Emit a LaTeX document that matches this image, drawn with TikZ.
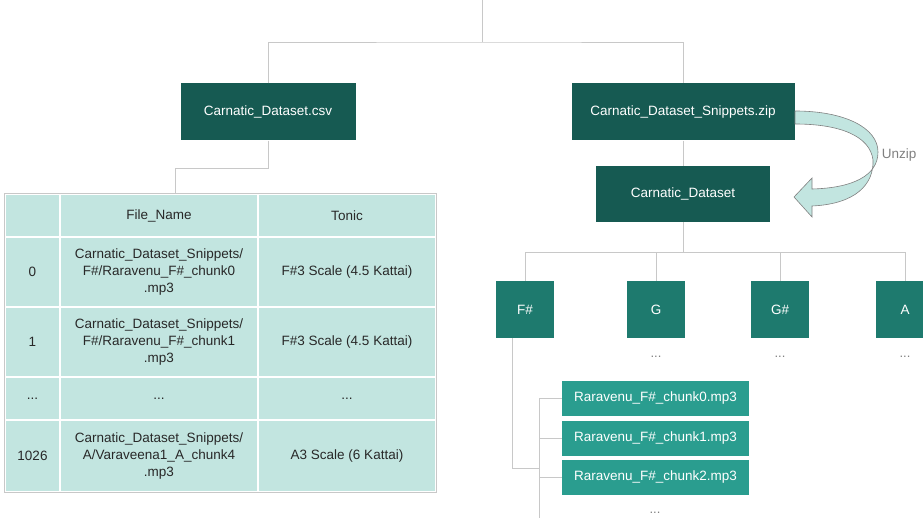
\documentclass[tikz,border=0pt]{standalone}
\usepackage{fontspec}
\setmainfont{Liberation Sans}
\usepackage{tikz}

\definecolor{darkteal}{RGB}{22,90,82}
\definecolor{midteal}{RGB}{30,122,110}
\definecolor{fileteal}{RGB}{42,157,143}
\definecolor{cellteal}{RGB}{194,229,224}
\definecolor{linegray}{RGB}{200,200,200}
\definecolor{celltext}{RGB}{40,40,40}

\tikzset{
  darkbox/.style={fill=darkteal, text=white},
  keybox/.style={fill=midteal, text=white, minimum width=58pt, minimum height=57pt},
  filebox/.style={fill=fileteal, text=white, minimum width=187pt, minimum height=35pt},
  cell/.style={fill=cellteal, draw=white, line width=1.5pt, align=center, text=celltext},
  conn/.style={draw=linegray, line width=0.9pt},
  dots/.style={text=gray, font=\fontsize{13}{15}\selectfont},
}

\begin{document}
\begin{tikzpicture}[x=1pt,y=-1pt,inner sep=0pt,font=\fontsize{13.5}{16.7}\selectfont]
\useasboundingbox (0,0) rectangle (923,518);

% top level
\coordinate (root) at (482,0);
\coordinate (split) at (482,42);
\node (csv) at (268,112) [darkbox, minimum width=175pt, minimum height=57pt] {Carnatic\_Dataset.csv};
\node (zip) at (683,112) [darkbox, minimum width=223pt, minimum height=57pt] {Carnatic\_Dataset\_Snippets.zip};
\draw[conn] (root) -- (split);
\draw[conn] (csv.north) |- (split) -| (zip.north);

% csv table
\node (h0) at (32.5,215.5) [cell, minimum width=55pt, minimum height=43pt] {};
\node (h1) at (159,215.5) [cell, minimum width=198pt, minimum height=43pt] {File\_Name};
\node (h2) at (347,215.5) [cell, minimum width=178pt, minimum height=43pt] {Tonic};
\node (a0) at (32.5,272) [cell, minimum width=55pt, minimum height=70pt] {0};
\node (a1) at (159,272) [cell, minimum width=198pt, minimum height=70pt] {Carnatic\_Dataset\_Snippets/\\F\#/Raravenu\_F\#\_chunk0\\.mp3};
\node (a2) at (347,272) [cell, minimum width=178pt, minimum height=70pt] {F\#3 Scale (4.5 Kattai)};
\node (b0) at (32.5,342) [cell, minimum width=55pt, minimum height=70pt] {1};
\node (b1) at (159,342) [cell, minimum width=198pt, minimum height=70pt] {Carnatic\_Dataset\_Snippets/\\F\#/Raravenu\_F\#\_chunk1\\.mp3};
\node (b2) at (347,342) [cell, minimum width=178pt, minimum height=70pt] {F\#3 Scale (4.5 Kattai)};
\node (c0) at (32.5,398.5) [cell, minimum width=55pt, minimum height=43pt] {...};
\node (c1) at (159,398.5) [cell, minimum width=198pt, minimum height=43pt] {...};
\node (c2) at (347,398.5) [cell, minimum width=178pt, minimum height=43pt] {...};
\node (d0) at (32.5,456) [cell, minimum width=55pt, minimum height=72pt] {1026};
\node (d1) at (159,456) [cell, minimum width=198pt, minimum height=72pt] {Carnatic\_Dataset\_Snippets/\\A/Varaveena1\_A\_chunk4\\.mp3};
\node (d2) at (347,456) [cell, minimum width=178pt, minimum height=72pt] {A3 Scale (6 Kattai)};
\draw[linegray, line width=1pt] (h0.north west) rectangle (d2.south east);
\coordinate (tabjoin) at (175,168);
\draw[conn] (csv.south) |- (tabjoin) -- (tabjoin |- h1.north);

% snippets folder
\node (ds) at (683,194) [darkbox, minimum width=174pt, minimum height=56pt] {Carnatic\_Dataset};
\draw[conn] (zip) -- (ds);
\draw[fill=cellteal, draw=gray, line width=0.6pt]
  (795,111) .. controls (845,111) and (878,128) .. (878,152)
  .. controls (878,176) and (852,188) .. (812,189)
  -- (812,178) -- (794,197) -- (812,217) -- (812,206)
  .. controls (856,204) and (874,184) .. (873,160)
  .. controls (870,136) and (840,124) .. (795,124) -- cycle;
\node (unzip) at (899,155) [text=gray] {Unzip};

% tonic folders
\coordinate (ksplit) at (683,252);
\draw[conn] (ds) -- (ksplit);
\node (fs) at (525,309.5) [keybox] {F\#};
\node (g) at (656,309.5) [keybox] {G};
\node (gs) at (780,309.5) [keybox] {G\#};
\node (a) at (905,309.5) [keybox] {A};
\foreach \k in {fs,g,gs,a}
  \draw[conn] (\k.north) |- (ksplit);
\node (gdots) at (656,357) [dots] {...};
\node (gsdots) at (780,357) [dots] {...};
\node (adots) at (905,357) [dots] {...};

% files in F#
\node (f0) at (655.5,398.5) [filebox] {Raravenu\_F\#\_chunk0.mp3};
\node (f1) at (655.5,438) [filebox] {Raravenu\_F\#\_chunk1.mp3};
\node (f2) at (655.5,477.5) [filebox] {Raravenu\_F\#\_chunk2.mp3};
\node (fdots) at (655,513) [dots] {...};
\coordinate (fjoin) at (539,468);
\coordinate (fbot) at (539,518);
\draw[conn] ([xshift=-13pt]fs.south) |- (fjoin);
\draw[conn] (fbot) |- (f0.west);
\draw[conn] (fbot |- f1.west) -- (f1.west);
\draw[conn] (fbot |- f2.west) -- (f2.west);
\end{tikzpicture}
\end{document}
